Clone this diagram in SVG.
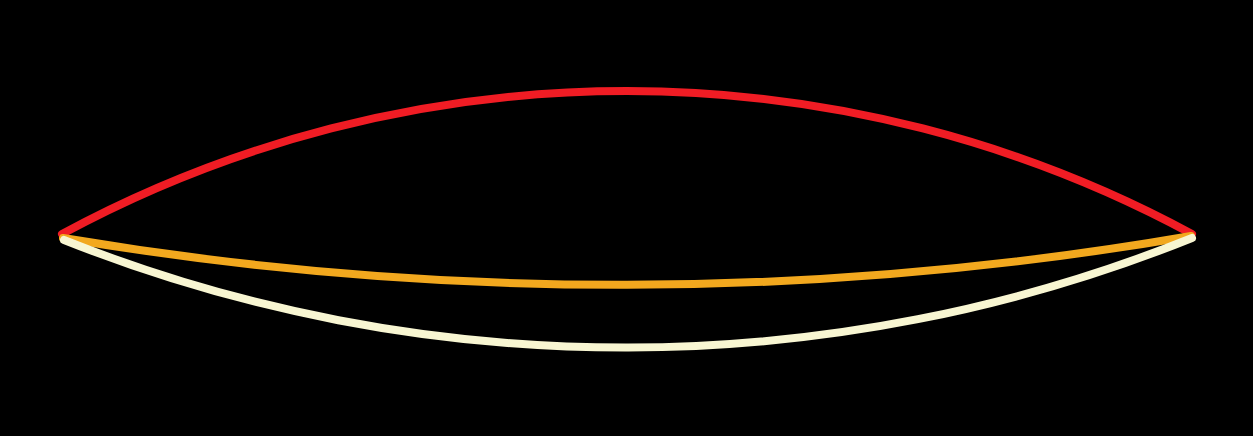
<svg xmlns="http://www.w3.org/2000/svg" width="1253" height="436" viewBox="0 0 1253 436">
<style>
.arc{fill:none;stroke-width:8;stroke-linecap:round}
</style>
<rect width="1253" height="436" fill="#000"/>
<g id="connectors">
<path id="red" class="arc" stroke="#f01c24" d="M62,234 A1188,1188 0 0 1 1192,234"/>
<path id="orange" class="arc" stroke="#f2a81e" d="M63,238 A3349,3349 0 0 0 1191,236"/>
<path id="cream" class="arc" stroke="#f8f6d2" d="M64,240 A1519,1519 0 0 0 1192,238"/>
</g>
</svg>
